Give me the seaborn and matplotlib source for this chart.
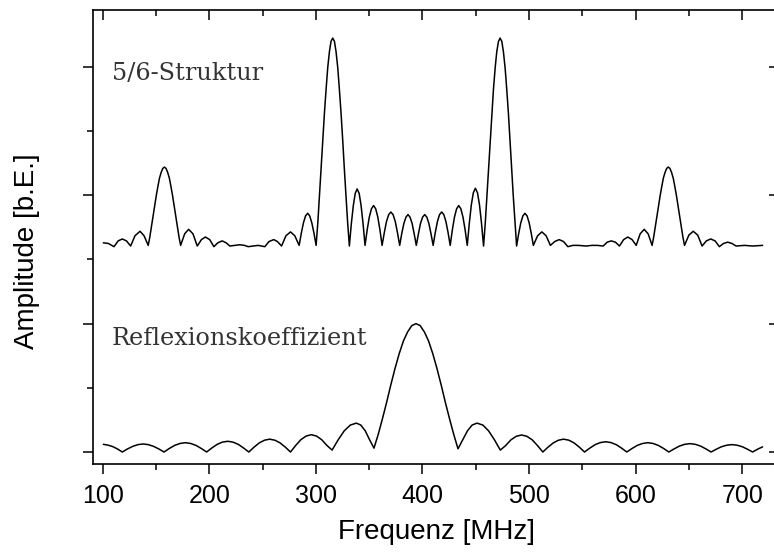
import matplotlib
matplotlib.use("Agg")
import matplotlib.pyplot as plt
from matplotlib.ticker import FixedLocator, NullLocator, NullFormatter
import seaborn as sns
import pandas as pd

# ---- data ----
struct_freq = [
    100.6, 105.3, 110.6, 114.5, 118.4, 122.3, 126.2, 130.3, 135.0, 138.8,
    142.7, 144.2, 145.7, 147.3, 148.8, 150.3, 151.8, 153.3, 154.9, 156.4,
    157.9, 159.4, 160.9, 162.5, 164.0, 165.5, 167.0, 168.5, 170.1, 171.6,
    173.1, 176.9, 180.6, 184.7, 188.7, 192.6, 196.3, 200.4, 204.3, 208.0,
    212.1, 215.8, 219.3, 224.0, 228.7, 233.0, 236.5, 241.0, 245.8, 252.1,
    256.0, 260.5, 263.9, 267.8, 271.9, 276.2, 280.2, 284.3, 286.3, 288.3,
    290.3, 292.3, 294.2, 296.2, 298.2, 300.2, 301.8, 303.3, 304.9, 306.4,
    308.0, 309.6, 311.1, 312.7, 314.2, 315.8, 317.4, 318.9, 320.5, 322.0,
    323.6, 325.2, 326.7, 328.3, 329.8, 331.4, 333.2, 335.1, 336.9, 338.7,
    340.6, 342.4, 344.3, 346.1, 348.1, 350.1, 352.1, 354.1, 356.1, 358.1,
    360.1, 362.1, 364.2, 366.2, 368.3, 370.3, 372.4, 374.5, 376.5, 378.6,
    380.5, 382.5, 384.5, 386.4, 388.3, 390.3, 392.2, 394.2, 396.2, 398.1,
    400.1, 402.1, 404.1, 406.0, 408.0, 410.0, 412.0, 414.0, 416.0, 418.0,
    420.0, 422.0, 424.0, 426.0, 428.0, 430.0, 432.0, 434.0, 436.0, 438.0,
    440.0, 442.0, 443.9, 445.8, 447.7, 449.6, 451.6, 453.5, 455.4, 457.3,
    458.9, 460.4, 462.0, 463.5, 465.1, 466.6, 468.2, 469.7, 471.3, 472.8,
    474.4, 475.9, 477.5, 479.0, 480.6, 482.1, 483.7, 485.2, 486.8, 488.3,
    490.3, 492.2, 494.2, 496.1, 498.1, 500.1, 502.0, 504.0, 508.0, 512.0,
    516.0, 520.0, 524.1, 528.2, 532.3, 536.4, 541.0, 546.0, 553.6, 559.0,
    564.0, 569.5, 573.3, 577.1, 581.0, 584.8, 588.7, 592.6, 596.6, 600.5,
    604.2, 608.0, 611.7, 615.4, 616.9, 618.4, 620.0, 621.5, 623.0, 624.5,
    626.0, 627.6, 629.1, 630.6, 632.1, 633.6, 635.2, 636.7, 638.2, 639.7,
    641.2, 642.8, 644.3, 645.8, 649.9, 654.0, 658.2, 662.3, 666.3, 670.4,
    674.5, 678.5, 682.4, 686.3, 690.3, 694.2, 702.0, 709.8, 719.1,
]
struct_amp = [
    3.26, 3.25, 3.20, 3.29, 3.32, 3.29, 3.21, 3.37, 3.44, 3.37,
    3.22, 3.35, 3.51, 3.67, 3.84, 4.00, 4.14, 4.27, 4.36, 4.42,
    4.44, 4.42, 4.36, 4.27, 4.14, 4.00, 3.84, 3.67, 3.51, 3.35,
    3.22, 3.40, 3.47, 3.40, 3.21, 3.31, 3.35, 3.31, 3.20, 3.26,
    3.29, 3.26, 3.21, 3.22, 3.23, 3.22, 3.20, 3.21, 3.22, 3.20,
    3.28, 3.31, 3.28, 3.21, 3.37, 3.43, 3.37, 3.22, 3.41, 3.57,
    3.68, 3.72, 3.68, 3.57, 3.41, 3.22, 3.57, 3.98, 4.41, 4.85,
    5.28, 5.66, 5.99, 6.24, 6.40, 6.45, 6.40, 6.24, 5.99, 5.66,
    5.28, 4.85, 4.41, 3.98, 3.57, 3.21, 3.55, 3.84, 4.03, 4.10,
    4.03, 3.84, 3.55, 3.22, 3.46, 3.66, 3.79, 3.84, 3.79, 3.66,
    3.46, 3.22, 3.42, 3.59, 3.70, 3.74, 3.70, 3.59, 3.42, 3.22,
    3.40, 3.56, 3.66, 3.70, 3.66, 3.56, 3.40, 3.22, 3.40, 3.56,
    3.66, 3.70, 3.66, 3.56, 3.40, 3.22, 3.42, 3.59, 3.70, 3.74,
    3.70, 3.59, 3.42, 3.22, 3.46, 3.66, 3.79, 3.84, 3.79, 3.66,
    3.46, 3.22, 3.56, 3.85, 4.04, 4.11, 4.04, 3.85, 3.56, 3.21,
    3.57, 3.98, 4.41, 4.85, 5.28, 5.66, 5.99, 6.24, 6.40, 6.45,
    6.40, 6.24, 5.99, 5.66, 5.28, 4.85, 4.41, 3.98, 3.57, 3.21,
    3.41, 3.57, 3.68, 3.72, 3.68, 3.57, 3.41, 3.22, 3.37, 3.43,
    3.37, 3.22, 3.28, 3.31, 3.28, 3.20, 3.22, 3.22, 3.21, 3.22,
    3.22, 3.21, 3.27, 3.29, 3.27, 3.21, 3.31, 3.35, 3.31, 3.22,
    3.40, 3.47, 3.40, 3.22, 3.35, 3.51, 3.67, 3.84, 4.00, 4.14,
    4.27, 4.36, 4.42, 4.44, 4.42, 4.36, 4.27, 4.14, 4.00, 3.84,
    3.67, 3.51, 3.35, 3.22, 3.38, 3.44, 3.38, 3.21, 3.29, 3.32,
    3.29, 3.20, 3.25, 3.27, 3.25, 3.21, 3.22, 3.21, 3.22,
]

refl_freq = [
    100.6, 104.9, 109.3, 113.8, 118.4, 123.3, 128.2, 133.1, 138.0, 142.8,
    147.7, 152.6, 157.5, 162.5, 167.5, 172.5, 177.5, 182.5, 187.5, 192.5,
    197.5, 202.4, 207.4, 212.3, 217.3, 222.2, 227.2, 232.1, 237.1, 242.0,
    246.9, 251.8, 256.6, 261.5, 266.4, 271.3, 276.2, 281.1, 285.9, 290.8,
    295.7, 300.6, 305.4, 310.3, 315.2, 320.9, 326.6, 332.3, 338.0, 342.1,
    346.3, 350.4, 354.5, 358.4, 362.3, 366.3, 370.2, 374.2, 378.1, 382.1,
    386.0, 390.0, 393.9, 397.8, 401.8, 405.7, 409.7, 413.6, 417.6, 421.5,
    425.5, 429.4, 433.3, 437.7, 442.2, 446.6, 451.1, 456.6, 462.0, 467.5,
    473.0, 478.0, 483.0, 488.0, 492.9, 497.9, 502.9, 507.9, 512.9, 517.8,
    522.7, 527.6, 532.4, 537.3, 542.2, 547.1, 552.0, 557.0, 561.9, 566.9,
    571.8, 576.8, 581.8, 586.7, 591.7, 596.6, 601.5, 606.5, 611.4, 616.3,
    621.2, 626.2, 631.1, 636.1, 641.0, 646.0, 650.9, 655.9, 660.9, 665.8,
    670.8, 675.7, 680.5, 685.4, 690.2, 695.1, 700.0, 704.8, 709.7, 714.5,
    719.1,
]
refl_amp = [
    0.120, 0.107, 0.085, 0.048, 0.000, 0.048, 0.088, 0.115, 0.125, 0.115,
    0.088, 0.048, 0.000, 0.055, 0.103, 0.133, 0.145, 0.133, 0.103, 0.055,
    0.000, 0.063, 0.119, 0.154, 0.167, 0.154, 0.119, 0.063, 0.000, 0.076,
    0.142, 0.184, 0.200, 0.184, 0.142, 0.076, 0.000, 0.103, 0.192, 0.248,
    0.270, 0.248, 0.192, 0.103, 0.030, 0.190, 0.330, 0.420, 0.450, 0.420,
    0.330, 0.190, 0.060, 0.270, 0.510, 0.770, 1.040, 1.300, 1.530, 1.730,
    1.870, 1.970, 2.000, 1.970, 1.870, 1.730, 1.530, 1.300, 1.040, 0.770,
    0.510, 0.270, 0.050, 0.190, 0.330, 0.420, 0.450, 0.420, 0.330, 0.190,
    0.030, 0.100, 0.190, 0.245, 0.265, 0.245, 0.190, 0.100, 0.000, 0.076,
    0.142, 0.184, 0.200, 0.184, 0.142, 0.076, 0.000, 0.061, 0.114, 0.147,
    0.160, 0.147, 0.114, 0.061, 0.000, 0.055, 0.103, 0.133, 0.145, 0.133,
    0.103, 0.055, 0.000, 0.049, 0.092, 0.120, 0.130, 0.120, 0.092, 0.049,
    0.000, 0.044, 0.082, 0.106, 0.115, 0.106, 0.082, 0.044, 0.000, 0.045,
    0.080,
]

x_ticks = [100, 200, 300, 400, 500, 600, 700]
x_minor = [150, 250, 350, 450, 550, 650, 750]
x_tick_labels = ["100", "200", "300", "400", "500", "600", "700"]
y_major = [0, 2, 4, 6]
y_minor = [1, 3, 5]
curve_labels = ["5/6-Struktur", "Reflexionskoeffizient"]

# ---- figure ----
sns.set_style("white")
plt.rcParams["font.family"] = ["Liberation Sans Narrow", "Liberation Sans", "DejaVu Sans"]
plt.rcParams["text.color"] = "black"
plt.rcParams["axes.labelcolor"] = "black"
plt.rcParams["xtick.color"] = "black"
plt.rcParams["ytick.color"] = "black"

W, H = 774, 554
fig = plt.figure(figsize=(W / 100, H / 100), dpi=100)
L, R, T, B = 93, 775, 9.5, 464
ax = fig.add_axes([L / W, 1 - B / H, (R - L) / W, (B - T) / H])

df_s = pd.DataFrame({"f": struct_freq, "a": struct_amp})
df_r = pd.DataFrame({"f": refl_freq, "a": refl_amp})
sns.lineplot(data=df_s, x="f", y="a", ax=ax, color="black", linewidth=1.1,
             sort=False, estimator=None)
sns.lineplot(data=df_r, x="f", y="a", ax=ax, color="black", linewidth=1.1,
             sort=False, estimator=None)

xlim = (90.9, 730.7)
ylim = (-0.187, 6.896)
ax.set_xlim(*xlim)
ax.set_ylim(*ylim)

for s in ax.spines.values():
    s.set_linewidth(1.2)
    s.set_color("black")

ax.xaxis.set_major_locator(FixedLocator(x_ticks))
ax.xaxis.set_minor_locator(FixedLocator(x_minor))
ax.set_xticklabels(x_tick_labels)
ax.yaxis.set_major_locator(FixedLocator(y_major))
ax.yaxis.set_minor_locator(FixedLocator(y_minor))
ax.yaxis.set_major_formatter(NullFormatter())
ax.tick_params(axis="x", which="major", direction="out", length=7.5, width=1.1,
               bottom=True, top=False, labelsize=18, pad=7, colors="black",
               labelcolor="black")
ax.tick_params(axis="x", which="minor", direction="out", length=4.5, width=1.1,
               bottom=True, top=False)
ax.tick_params(axis="y", which="major", direction="out", length=7, width=1.1,
               left=True, right=False)
ax.tick_params(axis="y", which="minor", direction="out", length=4, width=1.1,
               left=True, right=False)

# inward ticks on the top and right frames
ax_t = ax.twiny()
ax_t.set_xlim(*xlim)
ax_t.xaxis.set_major_locator(FixedLocator(x_ticks))
ax_t.xaxis.set_minor_locator(FixedLocator(x_minor))
ax_t.tick_params(axis="x", which="major", direction="in", length=7, width=1.1,
                 top=True, labeltop=False)
ax_t.tick_params(axis="x", which="minor", direction="in", length=4, width=1.1,
                 top=True)
ax_r = ax.twinx()
ax_r.set_ylim(*ylim)
ax_r.yaxis.set_major_locator(FixedLocator(y_major))
ax_r.yaxis.set_minor_locator(NullLocator())
ax_r.tick_params(axis="y", which="major", direction="in", length=4, width=1.1,
                 right=True, labelright=False)
for a2 in (ax_t, ax_r):
    for s in a2.spines.values():
        s.set_visible(False)

ax.set_xlabel("Frequenz [MHz]", fontsize=20, va="center", color="black")
ax.xaxis.set_label_coords(0.504, -0.15)
ax.set_ylabel("Amplitude [b.E.]", fontsize=20, va="center", color="black")
ax.yaxis.set_label_coords(-0.097, 0.469)

ax.text(108.4, 5.80, curve_labels[0], family="DejaVu Serif", fontsize=17.3,
        color="#333333", ha="left", va="baseline")
ax.text(108.4, 1.66, curve_labels[1], family="DejaVu Serif", fontsize=17.3,
        color="#333333", ha="left", va="baseline")

fig.savefig("out.png", dpi=100)
